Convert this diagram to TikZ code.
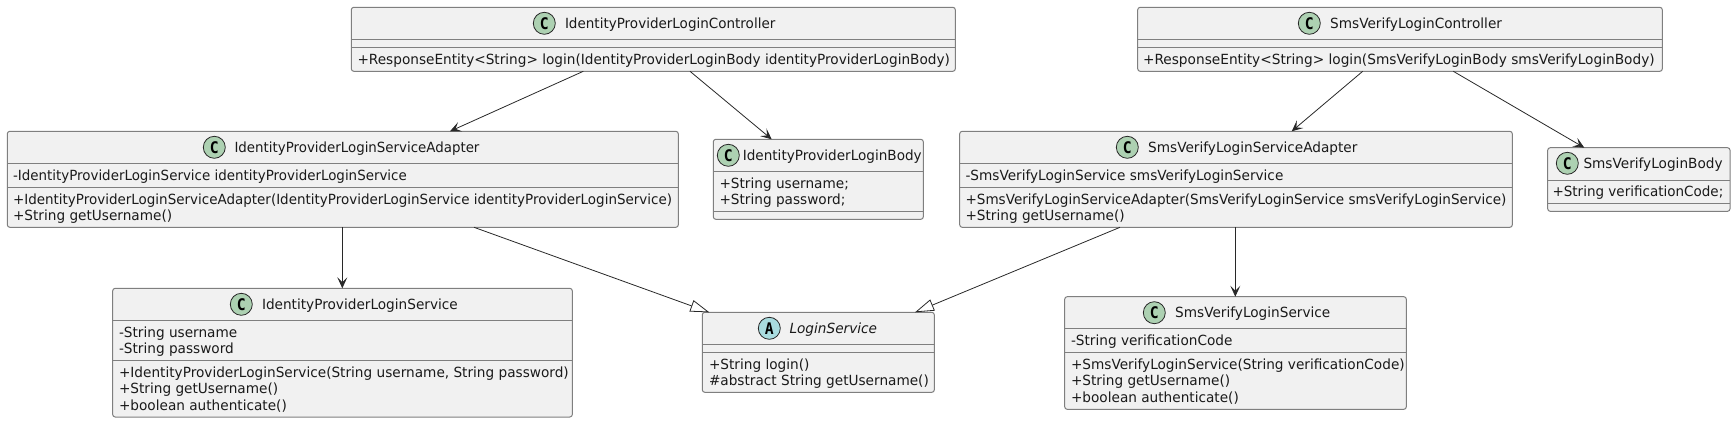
\documentclass[tikz,border=0pt]{standalone}
\usepackage{fontspec}
\setmainfont{DejaVu Sans}[FakeStretch=0.975]
\newfontfamily\iconfont{DejaVu Sans Mono}[FakeStretch=0.92]
\usetikzlibrary{arrows.meta,calc}
\definecolor{boxfill}{HTML}{F1F1F1}
\definecolor{boxline}{HTML}{7F7F7F}
\definecolor{edgeline}{HTML}{282828}
\definecolor{rowink}{HTML}{1A1A1A}
\definecolor{classicon}{HTML}{ADD1B2}
\definecolor{abstracticon}{HTML}{A9DCDF}
\tikzset{
  classbox/.style={draw=boxline,fill=boxfill,line width=1pt,rounded corners=2.5pt,inner sep=0pt,outer sep=0pt},
  sepline/.style={draw=boxline,line width=1pt},
  rowtext/.style={inner sep=0pt,outer sep=0pt,anchor=base west,text=rowink,font=\fontsize{14}{16}\selectfont},
  icon/.style={circle,draw=edgeline,line width=.8pt,inner sep=0pt,outer sep=0pt,minimum size=22pt},
  dep/.style={-{Stealth[length=11pt,width=10pt,inset=5pt]},draw=edgeline,line width=.8pt},
  ext/.style={-{Triangle[open,fill=white,length=19pt,width=12pt]},draw=edgeline,line width=.8pt},
}
% name x1 y1 x2 y2 sep1 sep2
\newcommand{\classbox}[7]{%
  \node[classbox,minimum width=#4pt-#2pt,minimum height=#5pt-#3pt,anchor=north west] (#1) at (#2,#3) {};
  \draw[sepline] (#1.west |- 0,#6) -- (#1.east |- 0,#6);
  \draw[sepline] (#1.west |- 0,#7) -- (#1.east |- 0,#7);}
\newcommand{\iconC}[3]{\node[icon,fill=classicon] (#1) at (#2,#3) {\iconfont\bfseries\fontsize{16}{16}\selectfont C};}
\newcommand{\iconA}[3]{\node[icon,fill=abstracticon] (#1) at (#2,#3) {\iconfont\bfseries\fontsize{16}{16}\selectfont A};}
\newcommand{\rowat}[4]{\node[rowtext] (#1) at (#2,#3) {#4};}
\begin{document}
\begin{tikzpicture}[x=1pt,y=-1pt]
\useasboundingbox (0,0) rectangle (1736,423);
% IdentityProviderLoginController
\classbox{ipc}{351.3}{7.3}{955.3}{71.3}{39.3}{47.3}
\iconC{ipci}{544.3}{23.3}
\rowat{ipct}{565}{28}{\scalebox{.99}[1]{IdentityProviderLoginController}}
\rowat{ipcm}{357.5}{64}{+ResponseEntity<String> login(IdentityProviderLoginBody identityProviderLoginBody)}
% SmsVerifyLoginController
\classbox{svc}{1137.7}{7.3}{1662.3}{71.3}{39.3}{47.3}
\iconC{svci}{1309.3}{23.3}
\rowat{svct}{1330.2}{28}{SmsVerifyLoginController}
\rowat{svcm}{1143}{64}{\scalebox{1.004}[1]{+ResponseEntity<String> login(SmsVerifyLoginBody smsVerifyLoginBody)}}
% IdentityProviderLoginServiceAdapter
\classbox{ipa}{7.3}{131.3}{678.3}{227.3}{163.3}{187.3}
\iconC{ipai}{214.3}{147.3}
\rowat{ipat}{234.5}{152}{\scalebox{.98}[1]{IdentityProviderLoginServiceAdapter}}
\rowat{ipaf}{13}{180}{\scalebox{.983}[1]{-IdentityProviderLoginService identityProviderLoginService}}
\rowat{ipam}{13}{204}{\scalebox{.987}[1]{+IdentityProviderLoginServiceAdapter(IdentityProviderLoginService identityProviderLoginService)}}
\rowat{ipag}{13}{220.5}{+String getUsername()}
% IdentityProviderLoginBody
\classbox{ipb}{713.3}{139.3}{923.3}{219.3}{171.3}{211.3}
\iconC{ipbi}{728.3}{155.3}
\rowat{ipbt}{742.8}{160}{\scalebox{.995}[1]{IdentityProviderLoginBody}}
\rowat{ipbu}{719.5}{188}{+String username;}
\rowat{ipbp}{719.5}{204}{+String password;}
% SmsVerifyLoginServiceAdapter
\classbox{sva}{959.7}{131.3}{1512.3}{227.3}{163.3}{187.3}
\iconC{svai}{1127.3}{147.3}
\rowat{svat}{1148.2}{152}{SmsVerifyLoginServiceAdapter}
\rowat{svaf}{965.5}{180}{-SmsVerifyLoginService smsVerifyLoginService}
\rowat{svam}{965.5}{204}{\scalebox{.994}[1]{+SmsVerifyLoginServiceAdapter(SmsVerifyLoginService smsVerifyLoginService)}}
\rowat{svag}{965.5}{220.5}{+String getUsername()}
% SmsVerifyLoginBody
\classbox{svb}{1547.7}{147.7}{1730}{211.3}{180.3}{203.3}
\iconC{svbi}{1567.3}{163.3}
\rowat{svbt}{1583.5}{168.3}{SmsVerifyLoginBody}
\rowat{svbf}{1552.5}{196}{\scalebox{.99}[1]{+String verificationCode;}}
% IdentityProviderLoginService
\classbox{ips}{112.7}{288.3}{572.3}{417}{320.3}{360.3}
\iconC{ipsi}{241.3}{304.3}
\rowat{ipst}{262}{309}{IdentityProviderLoginService}
\rowat{ipsa}{119}{337}{-String username}
\rowat{ipsb}{119}{353}{-String password}
\rowat{ipsc}{119}{377.7}{+IdentityProviderLoginService(String username, String password)}
\rowat{ipsd}{119}{393.7}{+String getUsername()}
\rowat{ipse}{119}{410}{+boolean authenticate()}
% LoginService
\classbox{lgs}{702.3}{312.3}{934.3}{392.3}{344.3}{352.3}
\iconA{lgsi}{769.3}{328.3}
\node[rowtext,font=\fontsize{14}{16}\selectfont\itshape] (lgst) at (789.5,333.3) {LoginService};
\rowat{lgsa}{709}{369.3}{+String login()}
\rowat{lgsb}{709}{385}{\#abstract String getUsername()}
% SmsVerifyLoginService
\classbox{svs}{1064.7}{296.7}{1406.3}{409.3}{328.3}{352.3}
\iconC{svsi}{1154.3}{312.7}
\rowat{svst}{1175.2}{317.3}{SmsVerifyLoginService}
\rowat{svsa}{1071}{345}{-String verificationCode}
\rowat{svsb}{1071}{369.3}{+SmsVerifyLoginService(String verificationCode)}
\rowat{svsc}{1071}{385.7}{+String getUsername()}
\rowat{svsd}{1071}{402}{+boolean authenticate()}
% connectors
\draw[dep] (ipc.south -| 583.3,0) -- (ipa.north -| 450,0);
\draw[dep] (ipc.south -| 690,0) -- (ipb.north -| 771.7,0);
\draw[dep] (svc.south -| 1362.7,0) -- (sva.north -| 1291.7,0);
\draw[dep] (svc.south -| 1453.3,0) -- (svb.north -| 1584.3,0);
\draw[dep] (ipa.south -| 342.3,0) -- (ips.north -| 342.3,0);
\draw[dep] (sva.south -| 1235.3,0) -- (svs.north -| 1235.3,0);
\draw[ext] (ipa.south -| 474,0) -- (lgs.north -| 709.3,0);
\draw[ext] (sva.south -| 1120,0) -- (lgs.north -| 915,0);
\end{tikzpicture}
\end{document}
